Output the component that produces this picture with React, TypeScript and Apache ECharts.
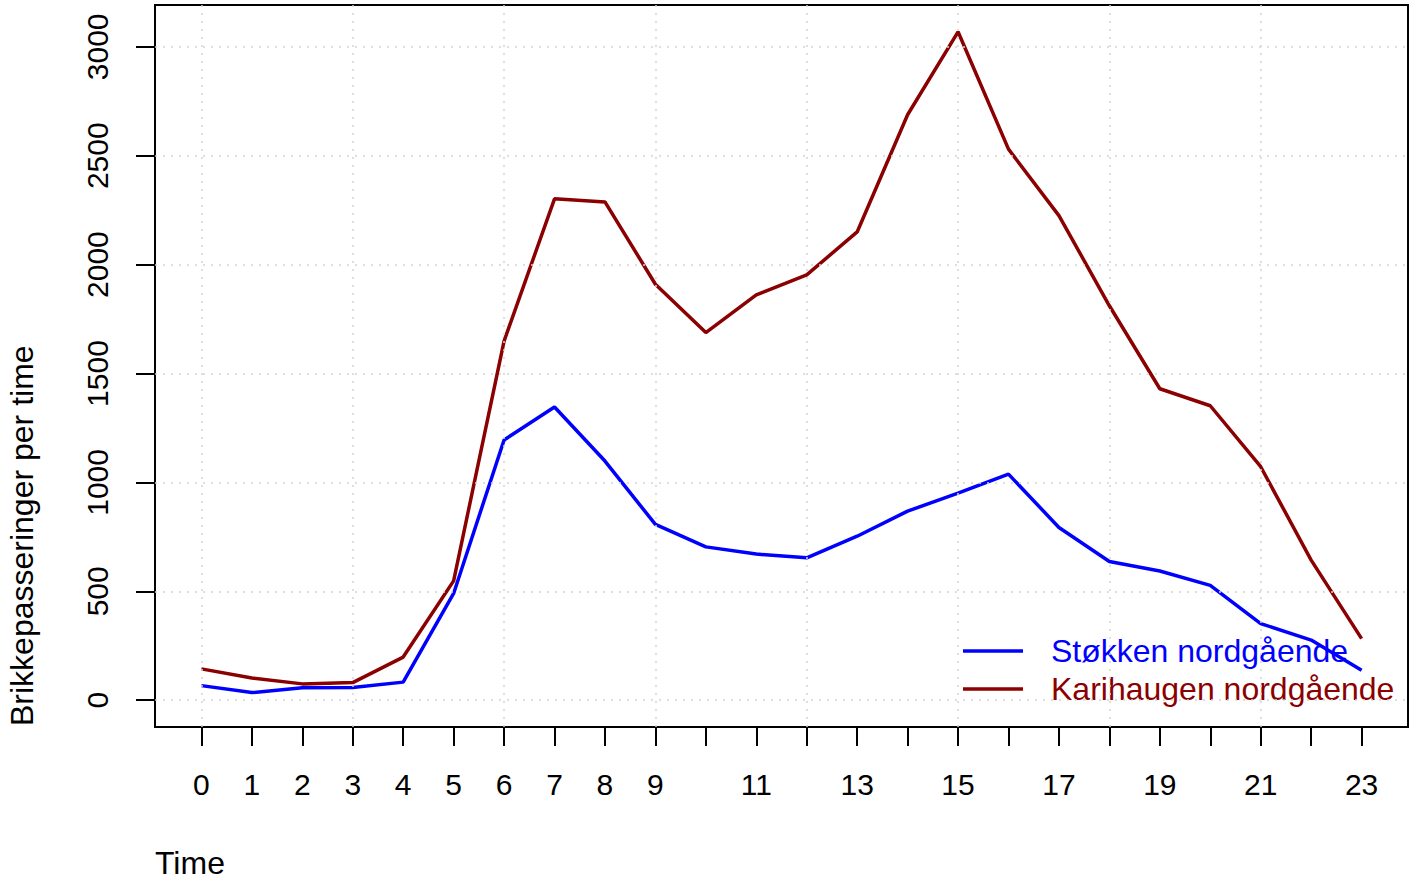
import React, { useEffect, useRef } from "react";
import * as echarts from "echarts";

const hours = [0, 1, 2, 3, 4, 5, 6, 7, 8, 9, 10, 11, 12, 13, 14, 15, 16, 17, 18, 19, 20, 21, 22, 23];
const stokken = [67, 35, 57, 58, 83, 490, 1195, 1346, 1098, 807, 704, 671, 654, 753, 868, 951, 1038, 793, 637, 593, 527, 352, 276, 138];
const karihaugen = [144, 102, 75, 81, 198, 548, 1649, 2302, 2288, 1910, 1688, 1861, 1953, 2150, 2688, 3069, 2530, 2225, 1811, 1430, 1352, 1072, 643, 283];
const xTickValues = hours;
const xLabelValues = [0, 1, 2, 3, 4, 5, 6, 7, 8, 9, 11, 13, 15, 17, 19, 21, 23];
const yTickValues = [0, 500, 1000, 1500, 2000, 2500, 3000];
const xGridValues = [0, 3, 6, 9, 12, 15, 18, 21];
const seriesNames = ["Støkken nordgående", "Karihaugen nordgående"];
const seriesColors = ["#0000FF", "#8B0000"];
const xTitle = "Time";
const yTitle = "Brikkepasseringer per time";

const FONT = "'Liberation Sans', Arial, Helvetica, sans-serif";

export default function App() {
  const ref = useRef<HTMLDivElement>(null);
  useEffect(() => {
    if (!ref.current) return;
    const chart = echarts.init(ref.current, undefined, { renderer: "svg" });
    const gridLineStyle = { color: "#D3D3D3", width: 1.5, type: [2, 6] as number[] };
    const option: any = {
      animation: false,
      backgroundColor: "#FFFFFF",
      grid: {
        left: 155,
        right: 10,
        top: 5,
        bottom: 155,
        show: true,
        borderColor: "#000000",
        borderWidth: 2,
        backgroundColor: "transparent",
      },
      xAxis: {
        type: "value",
        min: -0.92,
        max: 23.92,
        axisLine: { show: false, onZero: false },
        splitLine: { show: false },
        axisTick: {
          show: true,
          inside: false,
          length: 19,
          customValues: xTickValues,
          lineStyle: { color: "#000", width: 2 },
        },
        axisLabel: {
          customValues: xLabelValues,
          margin: 42,
          color: "#000",
          fontSize: 30,
          fontFamily: FONT,
          formatter: (v: number) => String(v),
        },
      },
      yAxis: {
        type: "value",
        min: -123,
        max: 3192,
        axisLine: { show: false, onZero: false },
        splitLine: { show: false },
        axisTick: {
          show: true,
          inside: false,
          length: 19,
          customValues: yTickValues,
          lineStyle: { color: "#000", width: 2 },
        },
        axisLabel: {
          customValues: yTickValues,
          rotate: 90,
          margin: 43,
          color: "#000",
          fontSize: 30,
          fontFamily: FONT,
          formatter: (v: number) => String(v),
        },
      },
      legend: {
        orient: "vertical",
        left: 963,
        top: 635,
        icon: "rect",
        itemWidth: 60,
        itemHeight: 3.5,
        itemGap: 6,
        padding: 0,
        data: seriesNames.map((n, i) => ({
          name: n,
          textStyle: { color: seriesColors[i] },
        })),
        textStyle: {
          fontSize: 32,
          fontFamily: FONT,
          padding: [0, 0, 0, 23],
          lineHeight: 32,
        },
      },
      graphic: [
        {
          type: "text",
          x: 155,
          y: 863,
          style: {
            text: xTitle,
            font: `32px ${FONT}`,
            fill: "#000",
            textAlign: "left",
            textVerticalAlign: "middle",
          },
        },
        {
          type: "text",
          x: 22,
          y: 726,
          rotation: Math.PI / 2,
          style: {
            text: yTitle,
            font: `32px ${FONT}`,
            fill: "#000",
            textAlign: "left",
            textVerticalAlign: "middle",
          },
        },
      ],
      series: [
        {
          name: "grid",
          type: "line",
          data: [],
          z: 1,
          silent: true,
          markLine: {
            silent: true,
            symbol: ["none", "none"],
            label: { show: false },
            lineStyle: gridLineStyle,
            emphasis: { disabled: true },
            data: [
              ...xGridValues.map((v) => ({ xAxis: v })),
              ...yTickValues.map((v) => ({ yAxis: v })),
            ],
          },
        },
        {
          name: seriesNames[0],
          type: "line",
          data: hours.map((h, i) => [h, stokken[i]]),
          symbol: "none",
          color: seriesColors[0],
          lineStyle: { color: seriesColors[0], width: 3.5 },
          z: 3,
        },
        {
          name: seriesNames[1],
          type: "line",
          data: hours.map((h, i) => [h, karihaugen[i]]),
          symbol: "none",
          color: seriesColors[1],
          lineStyle: { color: seriesColors[1], width: 3.5 },
          z: 3,
        },
      ],
    };
    chart.setOption(option);
    return () => chart.dispose();
  }, []);
  return (
    <div
      ref={ref}
      style={{ position: "absolute", left: 0, top: 0, width: 1418, height: 882, background: "#fff" }}
    />
  );
}
